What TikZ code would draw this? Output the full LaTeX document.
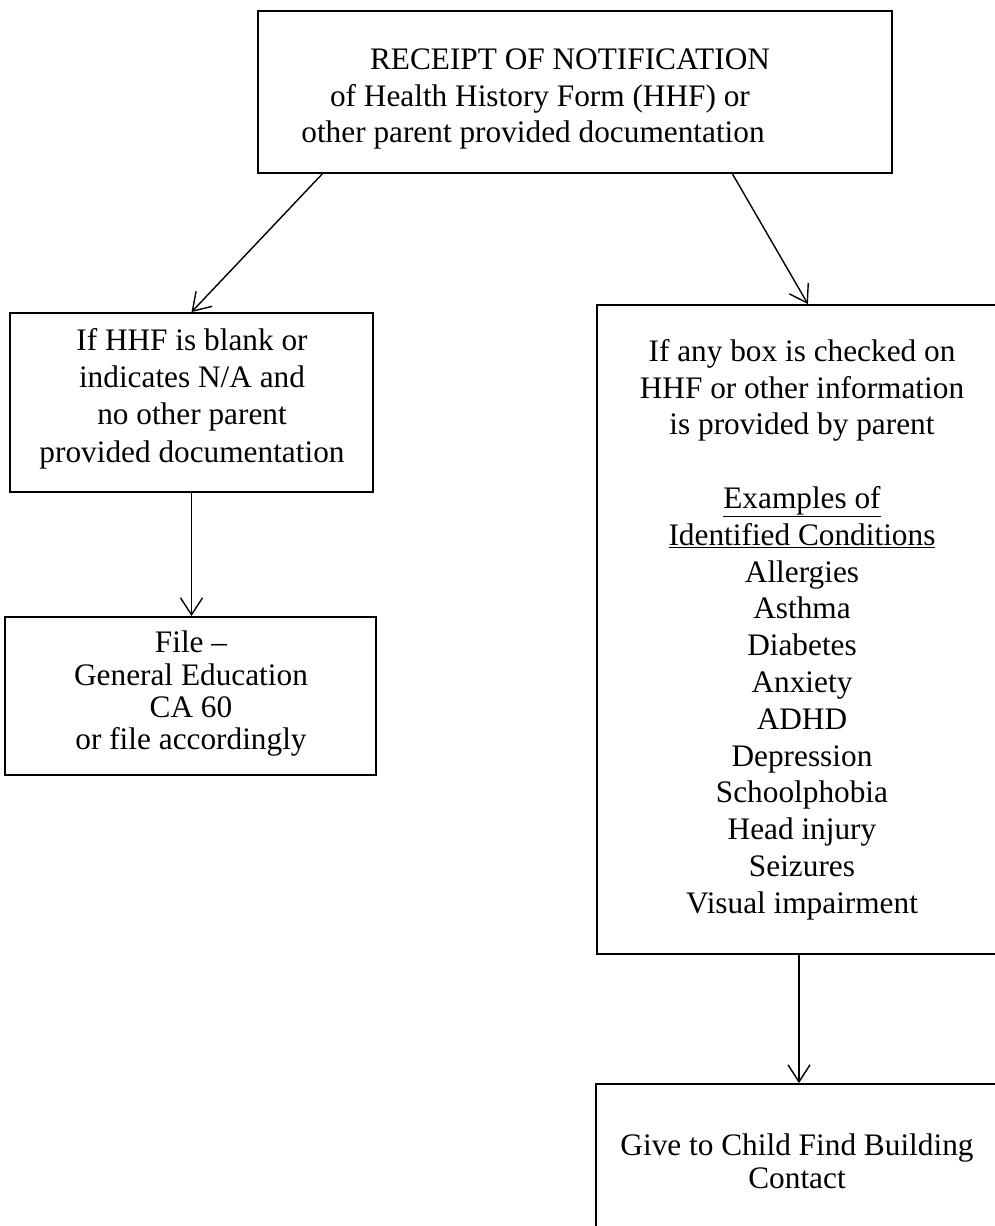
\documentclass[tikz,border=0pt]{standalone}
\usepackage{fontspec}
\setmainfont{Liberation Serif}
\usetikzlibrary{arrows.meta,calc}
\begin{document}
\begin{tikzpicture}[x=1pt,y=-1pt,
  box/.style={draw=black, line width=1.8pt, rectangle, inner sep=0pt},
  txt/.style={align=center, inner sep=0pt, anchor=north},
  arr/.style={line width=1.4pt, -{Straight Barb[length=17pt,width=22pt,line width=1.4pt]}}]
\useasboundingbox (0,0) rectangle (995,1226);
\clip (0,0) rectangle (995,1226);
\fill[white] (0,0) rectangle (995,1226);
% boxes
\node[box, minimum width=634pt, minimum height=162pt] (top) at (575,92) {};
\node[box, minimum width=363pt, minimum height=179pt] (left) at (191.5,402.5) {};
\node[box, minimum width=371pt, minimum height=158pt] (leftbot) at (190.5,696) {};
\node[box, minimum width=404pt, minimum height=649pt] (right) at (799,629.5) {};
\node[box, minimum width=405pt, minimum height=176pt] (bottom) at (798.5,1172) {};
% texts
\node[txt, font=\fontsize{31.3}{36.5}\selectfont] (toptext) at (540,49)
  {\hspace*{60pt}RECEIPT OF NOTIFICATION\\ of Health History Form (HHF) or\\ other parent provided documentation\hspace*{14pt}};
\node[txt, font=\fontsize{31.3}{37.3}\selectfont] (lefttext) at (192,328)
  {If HHF is blank or\\ indicates N/A and\\ no other parent\\ provided documentation};
\node[txt, font=\fontsize{31.3}{32.3}\selectfont] (leftbottext) at (191,631)
  {File --\\ General Education\\ CA 60\\ or file accordingly};
\node[txt, font=\fontsize{31.3}{36.8}\selectfont] (righttext) at (802,339)
  {If any box is checked on\\ HHF or other information\\ is provided by parent\\[36.8pt]
   \underline{Examples of}\\ \underline{Identified Conditions}\\ Allergies\\ Asthma\\ Diabetes\\
   Anxiety\\ ADHD\\ Depression\\ Schoolphobia\\ Head injury\\ Seizures\\ Visual impairment};
\node[txt, font=\fontsize{31.3}{33}\selectfont] (bottomtext) at (797,1134)
  {Give to Child Find Building\\ Contact};
% arrows
\draw[arr] ($(top.south west)!0.1025!(top.south east)$) -- (left.north);
\draw[arr] ($(top.south west)!0.7476!(top.south east)$) -- ($(right.north west)!0.522!(right.north east)$);
\draw[arr] (left.south) -- (left.south |- leftbot.north);
\draw[arr] (right.south) -- (right.south |- bottom.north);
\end{tikzpicture}
\end{document}
